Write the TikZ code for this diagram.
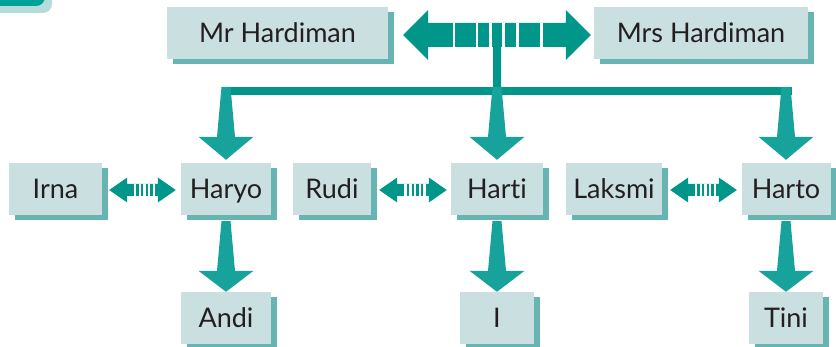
\documentclass[tikz,border=0pt]{standalone}
\usepackage{fontspec}
\setmainfont{Lato}[Ligatures={NoCommon}]
\usetikzlibrary{calc,shadows}
\definecolor{boxfill}{HTML}{C9DFE0}
\definecolor{boxshadow}{HTML}{67B5B3}
\definecolor{barteal}{HTML}{00968A}
\definecolor{arrteal}{HTML}{17A29C}
\definecolor{txt}{HTML}{231F20}
\definecolor{cornerdark}{HTML}{00A199}
\definecolor{cornerlight}{HTML}{B5DCDA}
% horizontal double arrow: start, end, head length, head half, shaft half, gap fractions
\newcommand{\hdblarrow}[6]{%
  \fill[barteal] let \p1=(#1), \p2=(#2) in
    (\x1,\y1) -- (\x1+#3,\y1+#4) -- (\x1+#3,\y1+#5) -- (\x2-#3,\y1+#5) --
    (\x2-#3,\y1+#4) -- (\x2,\y1) -- (\x2-#3,\y1-#4) -- (\x2-#3,\y1-#5) --
    (\x1+#3,\y1-#5) -- (\x1+#3,\y1-#4) -- cycle;
  \foreach \f in {#6}{
    \draw[white, line width=2.5pt] let \p1=(#1), \p2=(#2), \p3=($(#1)!\f!(#2)$) in
      (\x3,\y1+#5) -- (\x3,\y1-#5);
  }%
}
% vertical tapered down arrow: start, tip, head length
\newcommand{\vdownarrow}[3]{%
  \fill[arrteal] let \p1=(#1), \p2=(#2) in
    (\x1-4.5pt,\y1) -- (\x1+4.5pt,\y1) -- (\x1+9pt,\y2+#3) -- (\x1+27.5pt,\y2+#3) --
    (\x1,\y2) -- (\x1-27.5pt,\y2+#3) -- (\x1-9pt,\y2+#3) -- cycle;%
}
\begin{document}
\begin{tikzpicture}[x=1pt,y=-1pt,
  person/.style={fill=boxfill, draw=none, inner sep=0pt, minimum height=52pt,
    text=txt, font=\fontsize{27}{32}\selectfont, text height=19.5pt, text depth=0pt,
    drop shadow={shadow xshift=6pt, shadow yshift=-5pt, fill=boxshadow, opacity=1}},
]
\useasboundingbox (0,0) rectangle (836,347);
% corner decoration
\fill[cornerlight, rounded corners=9pt] (-30,-30) rectangle (52,13);
\fill[cornerdark, rounded corners=9pt] (-30,-30) rectangle (45,6);

% boxes
\node[person, minimum width=221pt] (mr) at (277.5,33) {Mr Hardiman};
\node[person, minimum width=214pt] (mrs) at (701,33) {Mrs Hardiman};
\node[person, minimum width=93pt] (irna) at (55.5,189) {Irna};
\node[person, minimum width=90pt] (haryo) at (226,189) {Haryo};
\node[person, minimum width=78pt] (rudi) at (332,189) {Rudi};
\node[person, minimum width=92pt] (harti) at (497,189) {Harti};
\node[person, minimum width=96pt] (laksmi) at (614,189) {Laksmi};
\node[person, minimum width=89pt] (harto) at (786,189) {Harto};
\node[person, minimum width=90pt] (andi) at (226,318) {Andi};
\node[person, minimum width=74pt] (i) at (497,318) {I};
\node[person, minimum width=74pt] (tini) at (786,318) {Tini};

% top marriage arrow and stem
\coordinate (a1) at ($(mr.east)+(15,2)$);
\coordinate (a2) at ($(mrs.west)+(-3,2)$);
\coordinate (barmid) at (0,91);
\coordinate (bartop) at (0,87);
\draw[barteal, line width=8pt] ($(a1)!0.5!(a2)$) -- (harti.north |- barmid);
\draw[barteal, line width=8pt] ($(haryo.north |- barmid)+(-3,0)$) -- ($(harto.north |- barmid)+(6,0)$);
\hdblarrow{a1}{a2}{25pt}{25pt}{12pt}{0.271,0.394,0.465,0.535,0.609,0.737}

% arrows to children
\vdownarrow{haryo.north |- bartop}{$(haryo.north)+(0,-3)$}{23pt}
\vdownarrow{harti.north |- bartop}{$(harti.north)+(0,-3)$}{23pt}
\vdownarrow{harto.north |- bartop}{$(harto.north)+(0,-3)$}{23pt}

% marriage arrows in second row
\coordinate (r1) at ($(irna.east)+(7,1)$);
\coordinate (r2) at ($(haryo.west)+(-5,1)$);
\hdblarrow{r1}{r2}{18pt}{12.5pt}{6pt}{0.39,0.46,0.53,0.60,0.67}
\coordinate (s1) at ($(rudi.east)+(8,1)$);
\coordinate (s2) at ($(harti.west)+(-4,1)$);
\hdblarrow{s1}{s2}{18pt}{12.5pt}{6pt}{0.39,0.46,0.53,0.60,0.67}
\coordinate (t1) at ($(laksmi.east)+(8,1)$);
\coordinate (t2) at ($(harto.west)+(-4.5,1)$);
\hdblarrow{t1}{t2}{18pt}{12.5pt}{6pt}{0.39,0.46,0.53,0.60,0.67}

% arrows to grandchildren
\vdownarrow{$(haryo.south)+(0,6)$}{andi.north}{21pt}
\vdownarrow{$(harti.south)+(0,6)$}{i.north}{21pt}
\vdownarrow{$(harto.south)+(0,6)$}{tini.north}{21pt}
\end{tikzpicture}
\end{document}
